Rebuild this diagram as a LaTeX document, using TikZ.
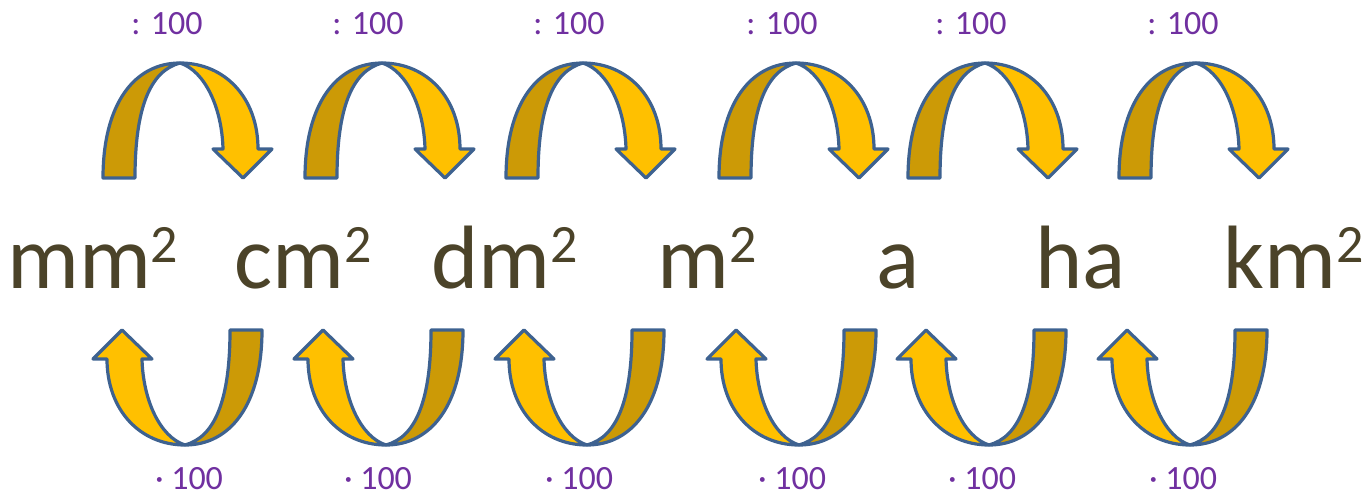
\documentclass[tikz,border=0pt]{standalone}
\usepackage{fontspec}
\setmainfont{Carlito}
\definecolor{lightfill}{HTML}{FFC000}
\definecolor{darkfill}{HTML}{CC9A06}
\definecolor{edge}{HTML}{3E6290}
\definecolor{unittext}{HTML}{4B4329}
\definecolor{factortext}{HTML}{7030A0}
\newcommand{\sqd}{\raisebox{26pt}{\fontsize{54}{54}\selectfont 2}}
\tikzset{
  x=1pt, y=1pt,
  bandstyle/.style={draw=edge, line width=3.2pt, line join=round},
  unitlabel/.style={anchor=base west, inner sep=0pt, text=unittext, font=\fontsize{90}{90}\selectfont},
  factorlabel/.style={anchor=base, inner sep=0pt, text=factortext, font=\fontsize{34}{34}\selectfont},
  turnarrow/.pic={
    \filldraw[bandstyle, fill=darkfill] (-77,-115) .. controls (-77,-40) and (-45,0) .. (0,0)
      .. controls (-30,-8) and (-45,-45) .. (-45,-115) -- cycle;
    \filldraw[bandstyle, fill=lightfill] (0,0) .. controls (45,0) and (78,-35) .. (78,-86)
      -- (92,-86) -- (63,-115) -- (33,-86) -- (43,-86)
      .. controls (42,-45) and (25,-8) .. (0,0) -- cycle;
  }
}
\begin{document}
\begin{tikzpicture}
\useasboundingbox (0,0) rectangle (1365,-495);
% unit texts
\node[unitlabel] (mm) at (7,-288) {mm\sqd};
\node[unitlabel] (cm) at (234,-288) {cm\sqd};
\node[unitlabel] (dm) at (431,-288) {dm\sqd};
\node[unitlabel] (m) at (657,-288) {m\sqd};
\node[unitlabel] (a) at (876,-288) {a};
\node[unitlabel] (ha) at (1035,-288) {ha};
\node[unitlabel] (km) at (1223,-288) {km\sqd};
% top arrows (division)
\foreach \ax/\lx [count=\i] in {180/167, 382/368, 583/569, 796/782, 985/971, 1196/1183}{
  \pic (top\i) at (\ax,-63) {turnarrow};
  \node[factorlabel] (div\i) at (\lx,-35) {: 100};
}
% bottom arrows (multiplication)
\foreach \ax/\lx [count=\i] in {185/189, 386/378, 587/579, 799/792, 989/982, 1190/1183}{
  \pic[rotate=180] (bot\i) at (\ax,-445) {turnarrow};
  \node[factorlabel] (mul\i) at (\lx,-489) {· 100};
}
\end{tikzpicture}
\end{document}
